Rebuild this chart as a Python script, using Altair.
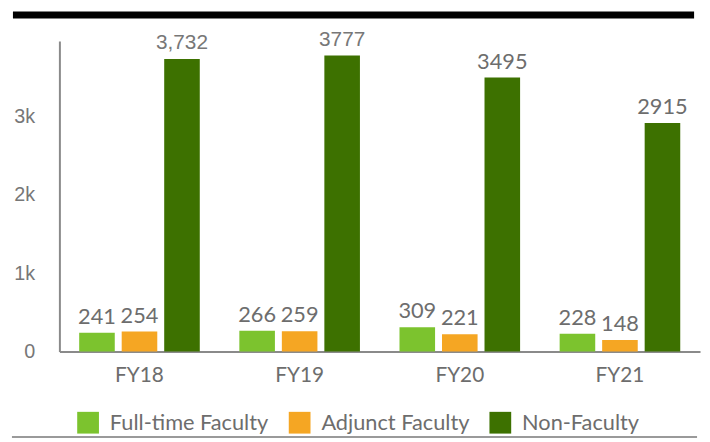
import altair as alt
import pandas as pd

years = ["FY18", "FY19", "FY20", "FY21"]
series = ["Full-time Faculty", "Adjunct Faculty", "Non-Faculty"]
full_time = [241, 266, 309, 228]
adjunct = [254, 259, 221, 148]
non_faculty = [3732, 3777, 3495, 2915]
non_faculty_labels = ["3,732", "3777", "3495", "2915"]
colors = ["#7cc32e", "#f5a623", "#3d7100"]

rows = []
for i, y in enumerate(years):
    rows.append({"year": y, "series": series[0], "value": full_time[i], "label": str(full_time[i])})
    rows.append({"year": y, "series": series[1], "value": adjunct[i], "label": str(adjunct[i])})
    rows.append({"year": y, "series": series[2], "value": non_faculty[i], "label": non_faculty_labels[i]})
df = pd.DataFrame(rows)

xscale = alt.Scale(domain=years, paddingInner=0.247, paddingOuter=0.1235)
offscale = alt.Scale(domain=series, paddingInner=0.163, paddingOuter=0)
yscale = alt.Scale(domain=[0, 3960], nice=False)

base = alt.Chart(df)

bars = base.mark_bar().encode(
    x=alt.X("year:N", scale=xscale, sort=years, title=None,
            axis=alt.Axis(labelAngle=0, labelFont="Lato", labelFontSize=21, labelColor="#6d6d6d",
                          labelPadding=13, ticks=False, domainColor="#8a8a8a", domainWidth=2)),
    xOffset=alt.XOffset("series:N", scale=offscale, sort=series),
    y=alt.Y("value:Q", scale=yscale, title=None,
            axis=alt.Axis(values=[0, 1000, 2000, 3000], grid=False, ticks=False,
                          labelExpr="datum.value == 0 ? '0' : format(datum.value / 1000, 'd') + 'k'",
                          labelFont="Liberation Sans", labelFontSize=20, labelColor="#777777",
                          labelPadding=25, domainColor="#8a8a8a", domainWidth=2)),
    color=alt.Color("series:N", sort=series, scale=alt.Scale(domain=series, range=colors), title=None,
                    legend=alt.Legend(orient="none", legendX=18, legendY=375, direction="horizontal",
                                      symbolType="square", symbolSize=484, symbolStrokeWidth=0,
                                      labelFont="Lato", labelFontSize=22, labelColor="#6d6d6d",
                                      labelLimit=400, labelOffset=11, columnPadding=20, symbolOpacity=1)),
)

is_helv = "datum.series == 'Non-Faculty' && (datum.year == 'FY18' || datum.year == 'FY19')"

labels = base.mark_text(baseline="bottom", dy=-4, font="Lato", fontSize=22, color="#6d6d6d").encode(
    x=alt.X("year:N", scale=xscale, sort=years),
    xOffset=alt.XOffset("series:N", scale=offscale, sort=series),
    y=alt.Y("value:Q", scale=yscale),
    text="label:N",
).transform_filter("!(" + is_helv + ")")

labels2 = base.mark_text(baseline="bottom", dy=-6, font="Liberation Sans", fontSize=21, color="#777777").encode(
    x=alt.X("year:N", scale=xscale, sort=years),
    xOffset=alt.XOffset("series:N", scale=offscale, sort=series),
    y=alt.Y("value:Q", scale=yscale),
    text="label:N",
).transform_filter(is_helv)

top_band = alt.Chart(pd.DataFrame({"a": [0]})).mark_rule(color="black", strokeWidth=7).encode(
    x=alt.value(-47), x2=alt.value(642), y=alt.value(-26.5)
)
bottom_line = alt.Chart(pd.DataFrame({"a": [0]})).mark_rule(color="#9a9a9a", strokeWidth=2).encode(
    x=alt.value(-48), x2=alt.value(645), y=alt.value(400.5)
)

chart = alt.layer(bars, labels, labels2, top_band, bottom_line).properties(
    width=648, height=314,
    autosize=alt.AutoSizeParams(type="none"),
    padding={"left": 52, "top": 31, "right": 2, "bottom": 88},
).configure(background="white", view=alt.ViewConfig(stroke=None))

chart.save("out.html", embed_options={"renderer": "svg", "actions": False})
